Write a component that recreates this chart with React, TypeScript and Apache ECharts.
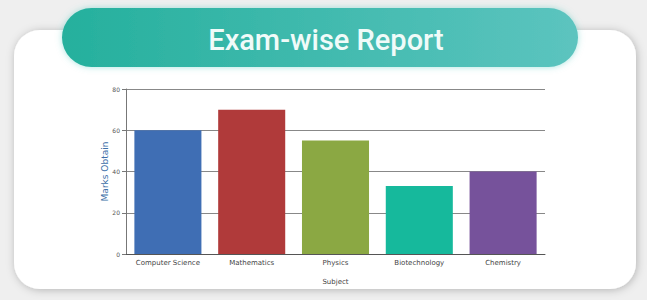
import React, { useEffect, useRef } from "react";
import * as echarts from "echarts";

const categories = ["Computer Science", "Mathematics", "Physics", "Biotechnology", "Chemistry"];
const marks = [60, 70, 55, 33, 40];
const barColors = ["#3f6eb4", "#b03a3a", "#8ba843", "#16b99c", "#76529b"];

export default function App() {
  const ref = useRef<HTMLDivElement>(null);
  useEffect(() => {
    if (!ref.current) return;
    const chart = echarts.init(ref.current, null, { renderer: "svg" });
    chart.setOption({
      animation: false,
      backgroundColor: "#efefef",
      graphic: [
        {
          type: "rect",
          shape: { x: 14, y: 30, width: 622, height: 259, r: 26 },
          style: { fill: "#ffffff", shadowBlur: 8, shadowColor: "rgba(0,0,0,0.25)", shadowOffsetX: 1, shadowOffsetY: 1 },
          z: -10,
        },
        {
          type: "rect",
          shape: { x: 62, y: 8, width: 516, height: 59, r: 29.5 },
          style: {
            fill: new echarts.graphic.LinearGradient(0, 0, 1, 0, [
              { offset: 0, color: "#25b09d" },
              { offset: 1, color: "#5cc4bf" },
            ]),
            shadowBlur: 6,
            shadowColor: "rgba(80,200,190,0.5)",
          },
          z: 10,
        },
        {
          type: "text",
          x: 326,
          y: 40,
          style: {
            text: "Exam-wise Report",
            fill: "#f0fbf9",
            font: "500 29px Roboto",
            align: "center",
            verticalAlign: "middle",
          },
          z: 11,
        },
      ],
      grid: { left: 126, right: 102, top: 89, bottom: 46 },
      xAxis: {
        type: "category",
        data: categories,
        name: "Subject",
        nameLocation: "middle",
        nameGap: 24,
        nameTextStyle: { fontSize: 7, color: "#444", fontFamily: "DejaVu Sans" },
        axisLine: { lineStyle: { color: "#555", width: 1 } },
        axisTick: { show: false },
        axisLabel: { fontSize: 7, color: "#444", margin: 5, fontFamily: "DejaVu Sans" },
      },
      yAxis: {
        type: "value",
        min: 0,
        max: 80,
        interval: 20,
        name: "Marks Obtain",
        nameLocation: "middle",
        nameGap: 17,
        nameMoveOverlap: false,
        nameTextStyle: { fontSize: 9, color: "#3d6fa8", fontFamily: "DejaVu Sans" },
        axisLine: { show: true, lineStyle: { color: "#777", width: 1 } },
        axisTick: { show: true, length: 4, lineStyle: { color: "#777" } },
        axisLabel: { fontSize: 6, color: "#555", margin: 6, fontFamily: "DejaVu Sans" },
        splitLine: { show: true, lineStyle: { color: "#888", width: 1 } },
      },
      series: [
        {
          type: "bar",
          barWidth: "80%",
          data: marks.map((v, i) => ({ value: v, itemStyle: { color: barColors[i] } })),
        },
      ],
    });
    return () => chart.dispose();
  }, []);
  return <div ref={ref} style={{ position: "fixed", left: 0, top: 0, width: 647, height: 300 }} />;
}
